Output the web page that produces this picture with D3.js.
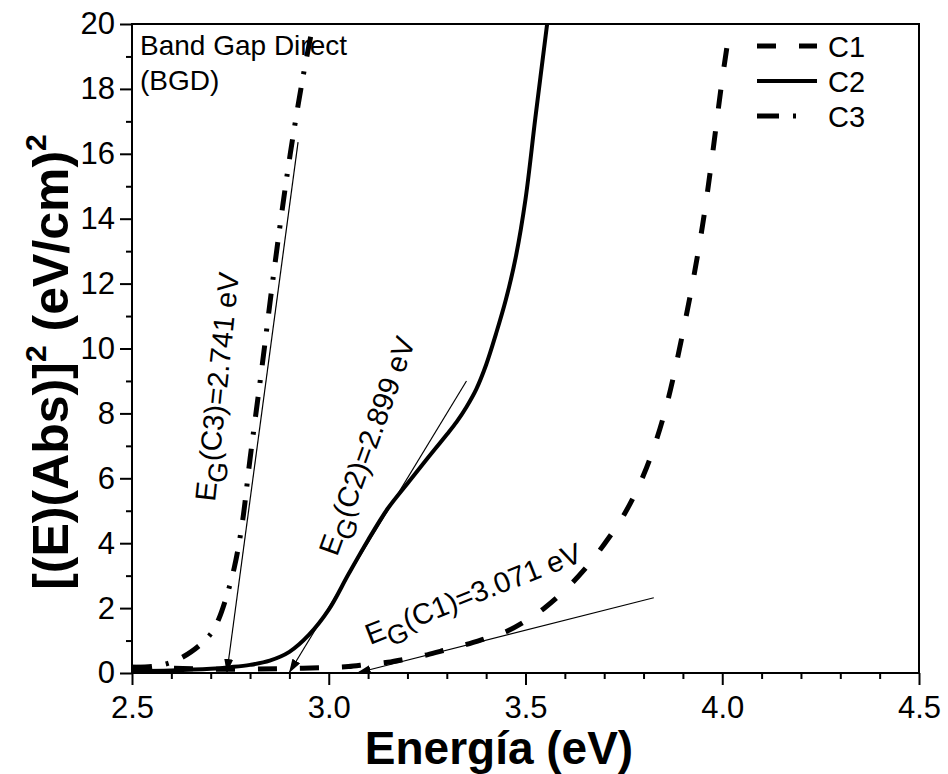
<!DOCTYPE html>
<html>
<head>
<meta charset="utf-8">
<script src="https://cdn.jsdelivr.net/npm/d3@7"></script>
<style>
  body { margin: 0; background: #fff; }
  svg text { font-family: "Liberation Sans", Arial, sans-serif; fill: #000; }
</style>
</head>
<body>
<svg id="chart" width="948" height="774"></svg>
<script>
// curve data
var c1Energy = [2.5, 2.6, 2.7, 2.8, 2.9, 3.0, 3.05, 3.1, 3.15, 3.2, 3.25, 3.3, 3.35, 3.4, 3.45, 3.5, 3.55, 3.6, 3.65, 3.7, 3.75, 3.8, 3.85, 3.9, 3.95, 4.0, 4.012];
var c1Values = [0.18, 0.15, 0.12, 0.12, 0.14, 0.17, 0.2, 0.27, 0.33, 0.44, 0.56, 0.72, 0.88, 1.07, 1.27, 1.6, 2.02, 2.55, 3.19, 3.97, 4.87, 6.1, 7.87, 10.5, 13.8, 18.3, 19.3];

var c2Energy = [2.5, 2.6, 2.7, 2.75, 2.8, 2.85, 2.9, 2.95, 3.0, 3.05, 3.1, 3.15, 3.2, 3.25, 3.3, 3.325, 3.35, 3.375, 3.4, 3.425, 3.45, 3.475, 3.5, 3.525, 3.556];
var c2Values = [0.06, 0.08, 0.13, 0.18, 0.25, 0.38, 0.65, 1.18, 1.95, 3.04, 4.1, 5.07, 5.84, 6.6, 7.35, 7.74, 8.2, 8.75, 9.5, 10.45, 11.5, 12.8, 14.6, 17.1, 20.1];

var c3Energy = [2.5, 2.55, 2.6, 2.65, 2.7, 2.72, 2.74, 2.76, 2.78, 2.8, 2.83, 2.86, 2.89, 2.91, 2.935, 2.962];
var c3Values = [0.18, 0.2, 0.33, 0.65, 1.2, 1.65, 2.35, 3.25, 4.6, 6.6, 9.4, 12.3, 15.0, 16.6, 18.4, 20.1];

var seriesNames = ['C1', 'C2', 'C3'];

// tangent fits: [E, value] top end and x-intercept
var tangentC1 = [[3.826, 2.32], [3.071, 0]];
var tangentC2 = [[3.35, 9.0], [2.899, 0]];
var tangentC3 = [[2.922, 16.36], [2.741, 0]];

var gapLabels = ['3.071', '2.899', '2.741'];

var xMajor = [2.5, 3.0, 3.5, 4.0, 4.5];
var yMajor = [0, 2, 4, 6, 8, 10, 12, 14, 16, 18, 20];

var svg = d3.select('#chart');
var plotLeft = 132, plotRight = 919, plotTop = 24, plotBottom = 673;

var x = d3.scaleLinear().domain([2.5, 4.5]).range([plotLeft, plotRight]);
var y = d3.scaleLinear().domain([0, 20]).range([plotBottom, plotTop]);

var defs = svg.append('defs');
defs.append('clipPath').attr('id', 'plotclip')
  .append('rect')
  .attr('x', plotLeft).attr('y', plotTop)
  .attr('width', plotRight - plotLeft).attr('height', plotBottom - plotTop);

defs.append('marker')
  .attr('id', 'arrow')
  .attr('viewBox', '0 0 14 9')
  .attr('refX', 14).attr('refY', 4.5)
  .attr('markerWidth', 14).attr('markerHeight', 9)
  .attr('markerUnits', 'userSpaceOnUse')
  .attr('orient', 'auto')
  .append('path')
  .attr('d', 'M0,0 L14,4.5 L0,9 Z')
  .attr('fill', '#000');

// minor ticks
var xMinor = d3.range(26, 45).map(function(d) { return d / 10; })
  .filter(function(d) { return Math.abs(d * 2 - Math.round(d * 2)) > 1e-6; });
var yMinor = d3.range(1, 20, 2);

svg.append('g')
  .attr('transform', 'translate(0,' + plotBottom + ')')
  .call(d3.axisBottom(x).tickValues(xMinor).tickSize(6).tickSizeOuter(0).tickFormat(''))
  .call(function(g) { g.select('.domain').remove(); g.selectAll('line').attr('stroke-width', 2); });

svg.append('g')
  .attr('transform', 'translate(' + plotLeft + ',0)')
  .call(d3.axisLeft(y).tickValues(yMinor).tickSize(6).tickSizeOuter(0).tickFormat(''))
  .call(function(g) { g.select('.domain').remove(); g.selectAll('line').attr('stroke-width', 2); });

var xAxis = svg.append('g')
  .attr('transform', 'translate(0,' + plotBottom + ')')
  .call(d3.axisBottom(x).tickValues(xMajor).tickSize(12).tickSizeOuter(0).tickPadding(11).tickFormat(d3.format('.1f')));
xAxis.select('.domain').remove();
xAxis.selectAll('line').attr('stroke-width', 2);
xAxis.selectAll('text').style('font-size', '31px').style('font-family', '"Liberation Sans", Arial, sans-serif');

var yAxis = svg.append('g')
  .attr('transform', 'translate(' + plotLeft + ',0)')
  .call(d3.axisLeft(y).tickValues(yMajor).tickSize(12).tickSizeOuter(0).tickPadding(5));
yAxis.select('.domain').remove();
yAxis.selectAll('line').attr('stroke-width', 2);
yAxis.selectAll('text').style('font-size', '31px').style('font-family', '"Liberation Sans", Arial, sans-serif');

// curves
var line = d3.line()
  .x(function(d) { return x(d[0]); })
  .y(function(d) { return y(d[1]); })
  .curve(d3.curveCatmullRom.alpha(0.5));

function pairs(xs, ys) { return xs.map(function(v, i) { return [v, ys[i]]; }); }

var styles = {
  C1: { width: 5, dash: '19,23' },
  C2: { width: 4, dash: null },
  C3: { width: 5, dash: '20,14,3,15' }
};

var curves = svg.append('g').attr('clip-path', 'url(#plotclip)');
[pairs(c1Energy, c1Values), pairs(c2Energy, c2Values), pairs(c3Energy, c3Values)].forEach(function(data, i) {
  var st = styles[seriesNames[i]];
  curves.append('path')
    .datum(data)
    .attr('d', line)
    .attr('fill', 'none')
    .attr('stroke', '#000')
    .attr('stroke-width', st.width)
    .attr('stroke-dasharray', st.dash);
});

// tangent lines with arrows to the x intercept
[tangentC1, tangentC2, tangentC3].forEach(function(t) {
  svg.append('line')
    .attr('x1', x(t[0][0])).attr('y1', y(t[0][1]))
    .attr('x2', x(t[1][0])).attr('y2', y(t[1][1]))
    .attr('stroke', '#000')
    .attr('stroke-width', 1.2)
    .attr('marker-end', 'url(#arrow)');
});

// frame
svg.append('rect')
  .attr('x', plotLeft).attr('y', plotTop)
  .attr('width', plotRight - plotLeft).attr('height', plotBottom - plotTop)
  .attr('fill', 'none').attr('stroke', '#000').attr('stroke-width', 2);

// rotated gap labels, anchored in data coordinates
var labelPos = [
  { name: 'C1', at: [3.105, 0.86], angle: -21.5 },
  { name: 'C2', at: [3.021, 3.57], angle: -70 },
  { name: 'C3', at: [2.711, 5.27], angle: -84 }
];
labelPos.forEach(function(l, i) {
  var t = svg.append('text')
    .attr('transform', 'translate(' + x(l.at[0]) + ',' + y(l.at[1]) + ') rotate(' + l.angle + ')')
    .style('font-size', '29px');
  t.append('tspan').text('E');
  t.append('tspan').attr('dy', 9).style('font-size', '27px').text('G');
  t.append('tspan').attr('dy', -9).text('(' + l.name + ')=' + gapLabels[i] + ' eV');
});

// note
svg.append('text').attr('x', 140).attr('y', 55).style('font-size', '28px').text('Band Gap Direct');
svg.append('text').attr('x', 140).attr('y', 90).style('font-size', '28px').text('(BGD)');

// legend
var legend = svg.append('g');
seriesNames.forEach(function(name, i) {
  var st = styles[name];
  var ly = 46 + i * 35;
  legend.append('line')
    .attr('x1', 757).attr('x2', 817).attr('y1', ly).attr('y2', ly)
    .attr('stroke', '#000').attr('stroke-width', st.width)
    .attr('stroke-dasharray', name === 'C3' ? '22,14,3,40' : st.dash);
  legend.append('text').attr('x', 828).attr('y', ly + 11).style('font-size', '29px').text(name);
});

// axis titles
svg.append('text')
  .attr('x', 499).attr('y', 764)
  .attr('text-anchor', 'middle')
  .style('font-size', '46px').style('font-weight', 'bold')
  .text('Energía (eV)');

var yt = svg.append('text')
  .attr('transform', 'translate(68,362) rotate(-90)')
  .attr('text-anchor', 'middle')
  .style('font-size', '50px').style('font-weight', 'bold');
yt.append('tspan').text('[(E)(Abs)]');
yt.append('tspan').attr('dy', -22).style('font-size', '30px').text('2');
yt.append('tspan').attr('dy', 22).text(' (eV/cm)');
yt.append('tspan').attr('dy', -22).style('font-size', '30px').text('2');
</script>
</body>
</html>
